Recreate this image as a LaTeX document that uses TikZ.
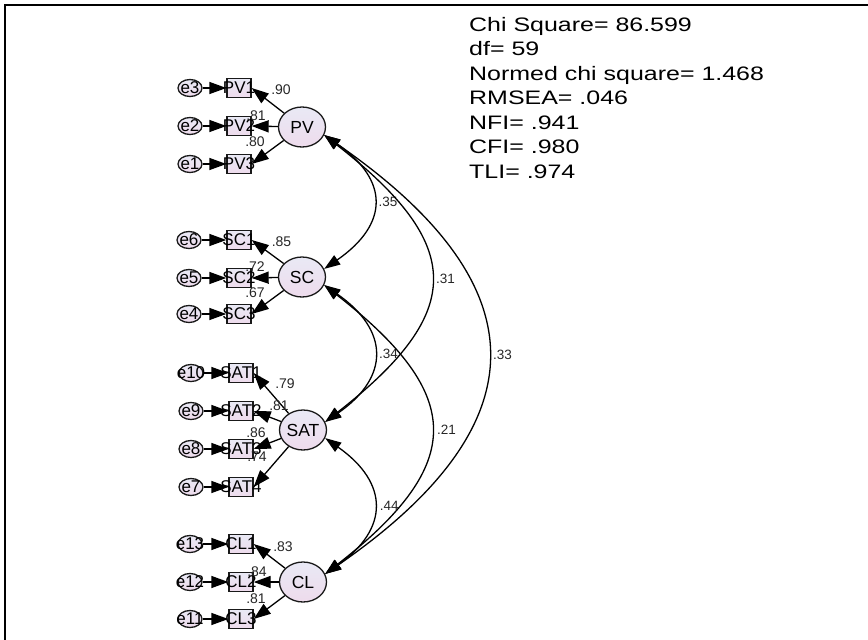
\documentclass[tikz,border=0pt]{standalone}
\usepackage{fontspec}
\setmainfont{Liberation Sans}
\newfontfamily\fitfont[FakeStretch=1.28]{Liberation Sans}
\usetikzlibrary{arrows.meta,shapes.geometric}
\definecolor{lavtop}{RGB}{233,233,245}
\definecolor{lavbot}{RGB}{238,219,236}
\begin{document}
\begin{tikzpicture}[x=1pt,y=-1pt,
  lat/.style={ellipse, draw=black!90, line width=1.3pt, minimum width=47pt, minimum height=40pt, inner sep=0pt, top color=lavtop, bottom color=lavbot, font=\fontsize{17.5}{17.5}\selectfont},
  obs/.style={rectangle, draw=black!90, line width=1.3pt, minimum width=24pt, minimum height=19pt, inner sep=0pt, top color=lavtop, bottom color=lavbot, font=\fontsize{17}{17}\selectfont},
  err/.style={ellipse, draw=black!90, line width=1.3pt, minimum width=24pt, minimum height=17pt, inner sep=0pt, top color=lavtop, bottom color=lavbot, font=\fontsize{17}{17}\selectfont},
  load/.style={-{Triangle[length=17pt,width=12pt]}, line width=1.3pt},
  cov/.style={{Triangle[length=16pt,width=11pt]}-{Triangle[length=16pt,width=11pt]}, line width=1.3pt},
  lbl/.style={font=\fontsize{14}{14}\selectfont, inner sep=0pt, text=black!85},
  clbl/.style={font=\fontsize{13.5}{13.5}\selectfont, inner sep=0pt, anchor=west, text=black!85},
  fitstat/.style={anchor=base west, inner sep=0pt, font=\fitfont\fontsize{19.5}{24}\selectfont}
]
\useasboundingbox (0,0) rectangle (868,640);
\draw[line width=1.6pt] (4.8,640) -- (4.8,4.8) -- (868,4.8);

% latent variables
\node[lat] (PV)  at (302,127) {PV};
\node[lat] (SC)  at (302,277) {SC};
\node[lat] (SAT) at (303,430) {SAT};
\node[lat] (CL)  at (303,582) {CL};

% observed variables
\node[obs] (PV1) at (239,88)  {\makebox[0pt]{PV1}};
\node[obs] (PV2) at (239,126) {\makebox[0pt]{PV2}};
\node[obs] (PV3) at (239,164) {\makebox[0pt]{PV3}};
\node[obs] (SC1) at (239,240) {\makebox[0pt]{SC1}};
\node[obs] (SC2) at (239,278) {\makebox[0pt]{SC2}};
\node[obs] (SC3) at (239,314) {\makebox[0pt]{SC3}};
\node[obs] (SAT1) at (241,373) {\makebox[0pt]{SAT1}};
\node[obs] (SAT2) at (241,411) {\makebox[0pt]{SAT2}};
\node[obs] (SAT3) at (241,449) {\makebox[0pt]{SAT3}};
\node[obs] (SAT4) at (241,487) {\makebox[0pt]{SAT4}};
\node[obs] (CL1) at (241,544) {\makebox[0pt]{CL1}};
\node[obs] (CL2) at (241,582) {\makebox[0pt]{CL2}};
\node[obs] (CL3) at (241,619) {\makebox[0pt]{CL3}};

% errors
\node[err] (e3) at (190,88)  {\makebox[0pt]{e3}};
\node[err] (e2) at (190,126) {\makebox[0pt]{e2}};
\node[err] (e1) at (190,164) {\makebox[0pt]{e1}};
\node[err] (e6) at (189,240) {\makebox[0pt]{e6}};
\node[err] (e5) at (189,278) {\makebox[0pt]{e5}};
\node[err] (e4) at (189,314) {\makebox[0pt]{e4}};
\node[err] (e10) at (191,373) {\makebox[0pt]{e10}};
\node[err] (e9) at (191,411) {\makebox[0pt]{e9}};
\node[err] (e8) at (191,449) {\makebox[0pt]{e8}};
\node[err] (e7) at (191,487) {\makebox[0pt]{e7}};
\node[err] (e13) at (190,544) {\makebox[0pt]{e13}};
\node[err] (e12) at (190,582) {\makebox[0pt]{e12}};
\node[err] (e11) at (190,619) {\makebox[0pt]{e11}};

% error arrows
\foreach \e/\o in {e3/PV1,e2/PV2,e1/PV3,e6/SC1,e5/SC2,e4/SC3,e10/SAT1,e9/SAT2,e8/SAT3,e7/SAT4,e13/CL1,e12/CL2,e11/CL3}
  \draw[load] (\e) -- (\o);

% loadings
\foreach \l/\o in {PV/PV1,PV/PV2,PV/PV3,SC/SC1,SC/SC2,SC/SC3,SAT/SAT1,SAT/SAT2,SAT/SAT3,SAT/SAT4,CL/CL1,CL/CL2,CL/CL3}
  \draw[load] (\l) -- (\o.east);

% loading labels
\node[lbl] (l1) at (281,90) {.90};
\node[lbl] (l2) at (256,116) {.81};
\node[lbl] (l3) at (255,142) {.80};
\node[lbl] (l4) at (281.5,242) {.85};
\node[lbl] (l5) at (255,267) {.72};
\node[lbl] (l6) at (255,293) {.67};
\node[lbl] (l7) at (285,384) {.79};
\node[lbl] (l8) at (279,406) {.81};
\node[lbl] (l9) at (256,433) {.86};
\node[lbl] (l10) at (257,457) {.74};
\node[lbl] (l11) at (283,547) {.83};
\node[lbl] (l12) at (257,572) {.84};
\node[lbl] (l13) at (256,599) {.81};

% covariances
\draw[cov] (PV.-20) .. controls +(65,45) and +(65,-45) .. (SC.20) node[clbl, pos=0.5, xshift=5pt] {.35};
\draw[cov] (PV.-20) .. controls +(141,110) and +(141,-110) .. (SAT.20) node[clbl, pos=0.5, xshift=5pt] {.31};
\draw[cov] (PV.-20) .. controls +(217,150) and +(217,-150) .. (CL.20) node[clbl, pos=0.5, xshift=5pt] {.33};
\draw[cov] (SC.-20) .. controls +(65,45) and +(65,-45) .. (SAT.20) node[clbl, pos=0.5, xshift=5pt] {.34};
\draw[cov] (SC.-20) .. controls +(141,110) and +(141,-110) .. (CL.20) node[clbl, pos=0.5, xshift=6pt] {.21};
\draw[cov] (SAT.-20) .. controls +(64,45) and +(64,-45) .. (CL.20) node[clbl, pos=0.5, xshift=6pt] {.44};

% fit statistics
\node[fitstat] (f1) at (469,31) {Chi Square= 86.599};
\node[fitstat] (f2) at (469,55.5) {df= 59};
\node[fitstat] (f3) at (469,80) {Normed chi square= 1.468};
\node[fitstat] (f4) at (469,104.5) {RMSEA= .046};
\node[fitstat] (f5) at (469,129) {NFI= .941};
\node[fitstat] (f6) at (469,153.5) {CFI= .980};
\node[fitstat] (f7) at (469,178) {TLI= .974};
\end{tikzpicture}
\end{document}
